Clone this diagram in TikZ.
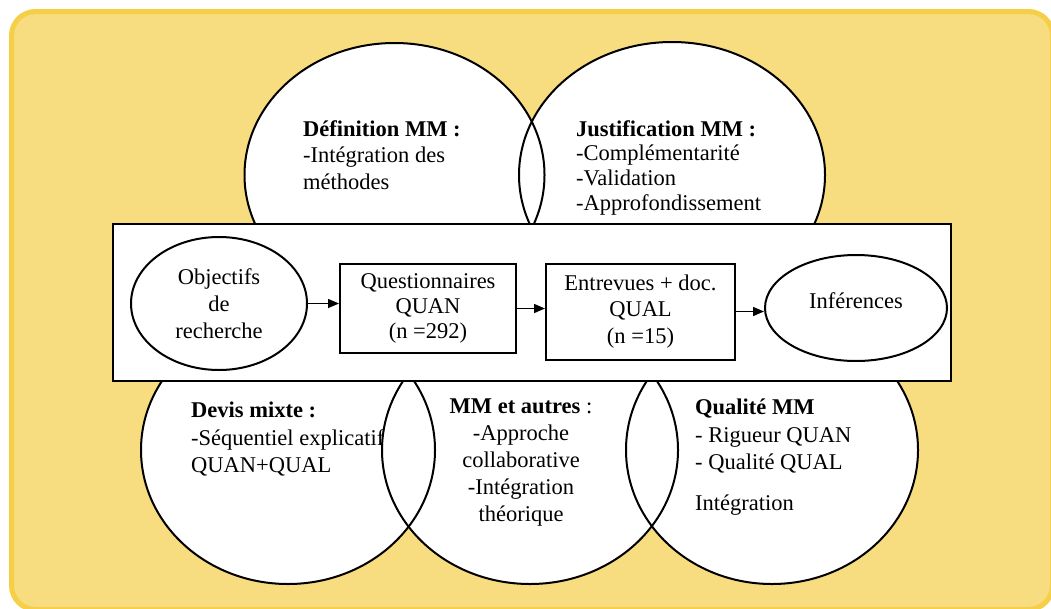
\documentclass[tikz,border=0pt]{standalone}
\usepackage{fontspec}
\setmainfont{Liberation Serif}
\usetikzlibrary{shapes.geometric,arrows.meta,positioning}
\definecolor{panelfill}{HTML}{F7DC80}
\definecolor{panelrim}{HTML}{F5CF48}
\begin{document}
\begin{tikzpicture}
            [x=1pt, y=-1pt, font=\fontsize{22.5}{27}\selectfont,
            % every node/.style={draw=black, thick},
            panel/.style={draw=panelrim, line width=5pt, fill=panelfill, rounded corners=24pt},
            bubble/.style={ellipse, fill=white, inner sep=0pt},
            bubbleline/.style={draw=black, line width=2pt},
            flowbox/.style={rectangle, draw=black, line width=2pt, fill=white, align=center, inner sep=0pt},
            flowoval/.style={ellipse, draw=black, line width=2pt, fill=white, align=center, inner sep=0pt},
            flowarrow/.style={draw=black, line width=1.5pt, -{Triangle[length=11pt, width=9pt]}},
            note/.style={align=left, anchor=north west, inner sep=0pt}]
            \useasboundingbox (0,0) rectangle (1051,608);
            \draw [panel] (11.5,11.5) rectangle (1052.5,609.5);
            % the five themes round the frame
            \foreach \name/\cx/\cy/\rx/\ry in {defn/394.5/175/150/132, justif/672/175/153/133,
                devis/288/450/147/134, autres/530/450/148/134, qualite/772/450/146/134}
                \node [bubble, minimum width={2*\rx}, minimum height={2*\ry}] (\name) at (\cx,\cy) {};
            \foreach \name/\rx/\ry in {defn/150/132, justif/153/133, devis/147/134, autres/148/134, qualite/146/134}
                \draw [bubbleline] (\name.center) ellipse [x radius=\rx, y radius=\ry];
            \node [note, font=\fontsize{22.5}{26.5}\selectfont] (defntext) at (303,120)
                {\textbf{Définition MM :}\\-Intégration des\\méthodes};
            \node [note, font=\fontsize{22.5}{24.7}\selectfont] (justiftext) at (576,120)
                {\textbf{Justification MM :}\\-Complémentarité\\-Validation\\-Approfondissement};
            \node [note, font=\fontsize{22.5}{27.5}\selectfont] (devistext) at (191,402)
                {\textbf{Devis mixte :}\\-Séquentiel explicatif\\QUAN+QUAL};
            \node [note, anchor=north, align=center] (autrestext) at (521,399)
                {\textbf{MM et autres} :\\-Approche\\collaborative\\-Intégration\\théorique};
            \node [note, font=\fontsize{22.5}{27.5}\selectfont] (qualitetext) at (695,399)
                {\textbf{Qualité MM}\\- Rigueur QUAN\\- Qualité QUAL\\[13.5pt]Intégration};
            % the design itself
            \node [style={rectangle, draw=black, line width=2.5pt, fill=white, inner sep=0pt},
                minimum width=838pt, minimum height=157pt] (frame) at (532,302.5) {};
            \node [flowoval, minimum width=176pt, minimum height=133pt] (objectifs) at (219,303.5)
                {Objectifs\\de\\recherche};
            \node [flowbox, minimum width=176pt, minimum height=89pt, font=\fontsize{22.5}{25}\selectfont]
                (questionnaires) at (428,308.5) {Questionnaires\\QUAN\\(n =292)};
            \node [flowbox, minimum width=189pt, minimum height=96pt, font=\fontsize{22.5}{26.5}\selectfont]
                (entrevues) at (640.5,311.5) {Entrevues + doc.\\QUAL\\(n =15)};
            \node [flowoval, minimum width=182pt, minimum height=106pt, text depth=14pt] (inferences) at (856,308)
                {Inférences};
            \draw [flowarrow] (objectifs.east) -- (objectifs.east -| questionnaires.west);
            \draw [flowarrow] (questionnaires.east) -- (questionnaires.east -| entrevues.west);
            \draw [flowarrow] (entrevues.east) -- (entrevues.east -| inferences.west);
\end{tikzpicture}
\end{document}
